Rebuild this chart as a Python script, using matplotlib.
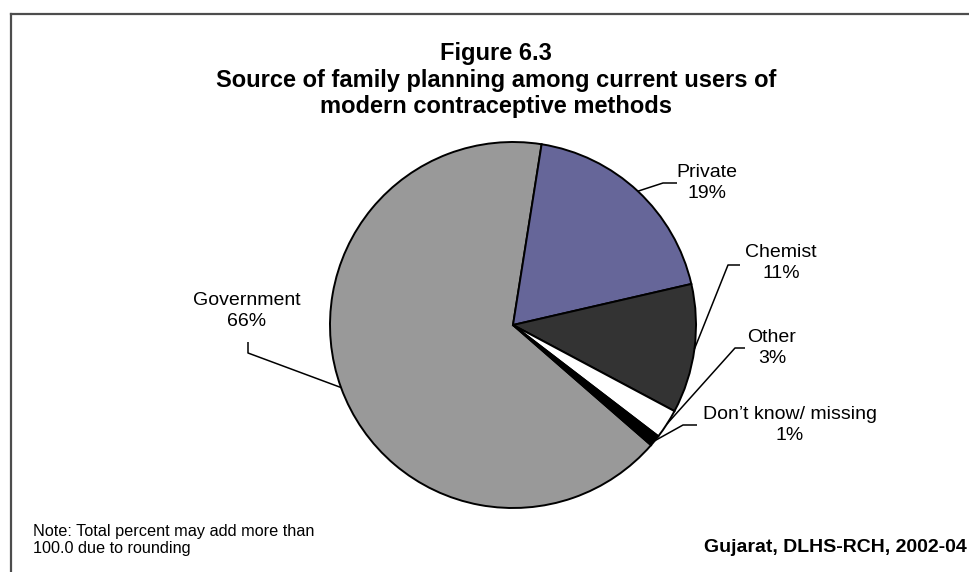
import numpy as np
import matplotlib.pyplot as plt

# Datos (porcentajes)
sources = ['Government', 'Private', 'Chemist', 'Other', 'Don\u2019t know/ missing']
shares = [66.1, 18.9, 11.4, 2.6, 1.0]
colors = ['#999999', '#666699', '#333333', '#ffffff', '#000000']

title = 'Figure 6.3\nSource of family planning among current users of\nmodern contraceptive methods'
note = 'Note: Total percent may add more than\n100.0 due to rounding'
source_txt = 'Gujarat, DLHS-RCH, 2002-04'

W, H = 969, 572
plt.rcParams['font.family'] = ['Liberation Sans', 'DejaVu Sans']

fig = plt.figure(figsize=(W / 100, H / 100), dpi=100)
ax = fig.add_axes([0, 0, 1, 1])


def py(y):
    # píxel desde arriba -> coordenada de datos
    return H - y


# Pastel: centro y radio en píxeles
cx, cy, r = 513, py(325), 183
private_start = 81.0
start = private_start + 360 * shares[0] / sum(shares)
wedges, _ = ax.pie(shares, colors=colors, center=(cx, cy), radius=r,
                   startangle=start, counterclock=False,
                   wedgeprops=dict(edgecolor='black', linewidth=1.4),
                   frame=False)

# Etiquetas con líneas guía: (codo, final de línea, centro del texto)
elbows = [(248, 353), (663, 183), (728, 265), (735, 348), (683, 425)]
ends = [(248, 342), (677, 183), (740, 265), (745, 348), (697, 425)]
label_pos = [(247, 311), (707, 183), (781, 263), (772, 348), (790, 425)]

for w, name, v, el, en, lp in zip(wedges, sources, shares, elbows, ends, label_pos):
    ang = np.deg2rad((w.theta1 + w.theta2) / 2)
    x0, y0 = cx + r * np.cos(ang), cy + r * np.sin(ang)
    ax.plot([x0, el[0], en[0]], [y0, py(el[1]), py(en[1])],
            color='black', linewidth=1.1, solid_capstyle='butt')
    ax.text(lp[0], py(lp[1]), f'{name}\n{int(v + 0.5)}%', ha='center', va='center',
            fontsize=14, linespacing=1.35)

# Marco (cortado a la derecha y abajo)
ax.plot([11, W], [py(14), py(14)], color='#4d4d4d', linewidth=1.6)
ax.plot([11, 11], [py(14), 0], color='#4d4d4d', linewidth=1.6)

ax.text(496, py(80), title, ha='center', va='center', fontsize=17,
        fontweight='bold', linespacing=1.22)
ax.text(33, py(540), note, ha='left', va='center', fontsize=11.7, linespacing=1.2)
ax.text(W - 2, py(547), source_txt, ha='right', va='center', fontsize=14,
        fontweight='bold')

ax.set_xlim(0, W)
ax.set_ylim(0, H)
ax.set_aspect('auto')
ax.axis('off')

plt.savefig('out.png', dpi=100)
